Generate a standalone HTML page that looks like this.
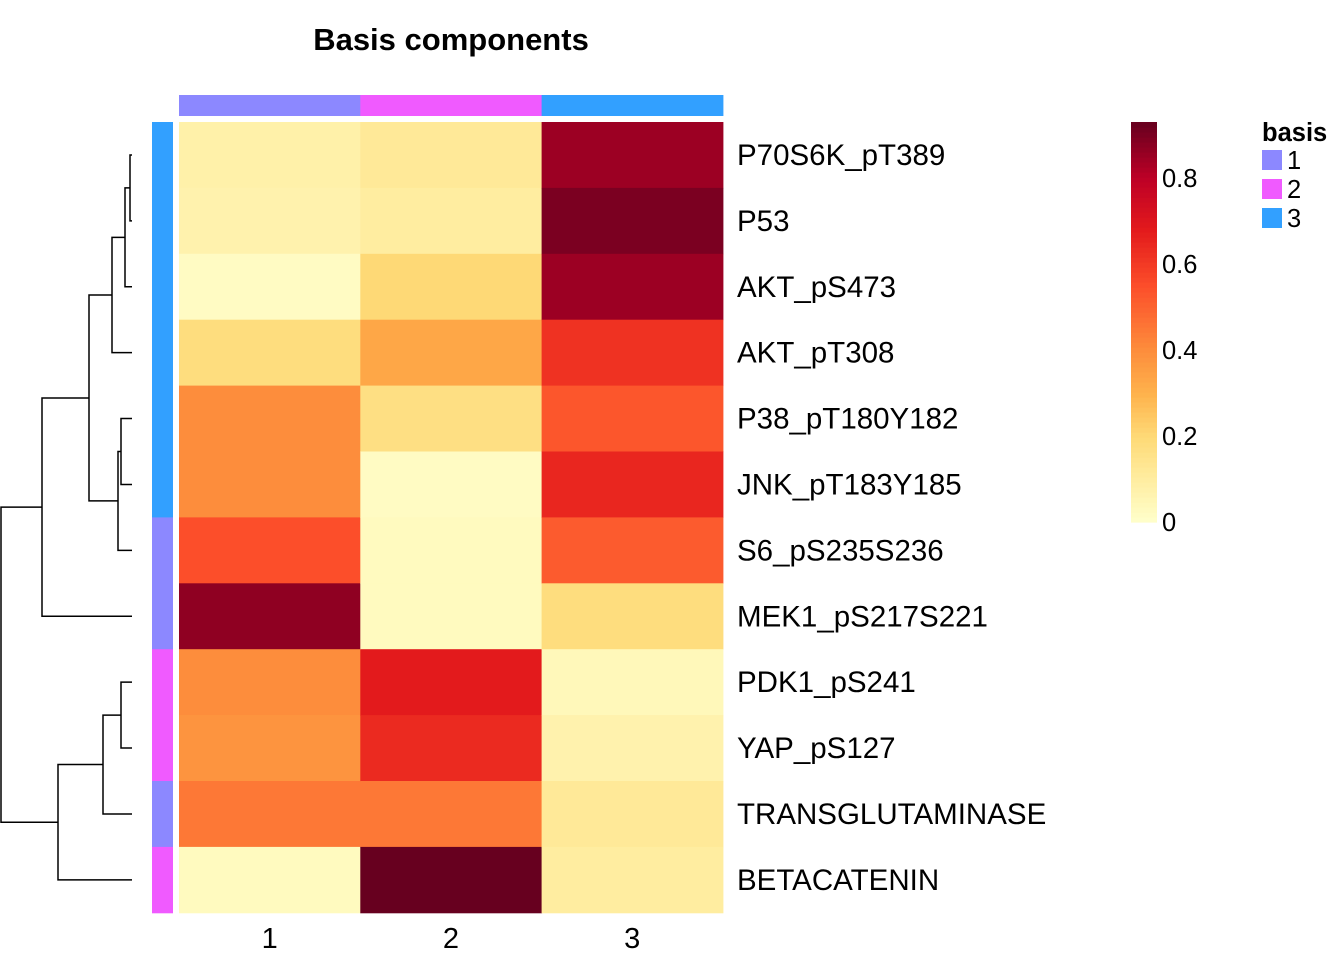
<!DOCTYPE html>
<html><head><meta charset="utf-8"><style>
body{margin:0;background:#fff;width:1344px;height:960px;overflow:hidden}
svg text{font-family:"Liberation Sans",Arial,sans-serif}
</style></head><body>
<svg id="chart" width="1344" height="960" xmlns="http://www.w3.org/2000/svg">
<text x="451" y="50" font-size="31" font-weight="bold" text-anchor="middle">Basis components</text>
<g id="cells"></g>
<g id="colann"></g>
<g id="rowann"></g>
<g id="dendro" stroke="#000" stroke-width="1.5" fill="none"></g>
<g id="rowlabels"></g>
<g id="collabels"></g>
<g id="cbar"></g>
<g id="blegend"></g>
</svg>
<script>
const rows = ["P70S6K_pT389","P53","AKT_pS473","AKT_pT308","P38_pT180Y182","JNK_pT183Y185","S6_pS235S236","MEK1_pS217S221","PDK1_pS241","YAP_pS127","TRANSGLUTAMINASE","BETACATENIN"];
const cols = ["1","2","3"];
const basis1 = [0.08,0.07,0.02,0.18,0.40,0.40,0.55,0.87,0.40,0.38,0.45,0.03];
const basis2 = [0.12,0.10,0.20,0.33,0.17,0.02,0.03,0.03,0.68,0.64,0.45,0.93];
const basis3 = [0.85,0.90,0.85,0.62,0.53,0.65,0.52,0.18,0.04,0.07,0.12,0.10];
const rowBasis = [3,3,3,3,3,3,1,1,2,2,1,2];
const colBasis = [1,2,3];
const legendTicks = [0,0.2,0.4,0.6,0.8];
// dendrogram merges: negative = leaf index, positive = merge index (1-based); heights in x pixel units
const mergeA = [-1,1,2,-5,4,3,6,-9,8,9,7];
const mergeB = [-2,-3,-4,-6,-7,5,-8,-10,-11,-12,10];
const mergeX = [130,125,112,121,118,89,42,121,103,58,1];

const NS="http://www.w3.org/2000/svg";
const basisColors={1:"#8C88FF",2:"#F05AFF",3:"#32A0FF"};
const vmax=0.93;
const stopV=[0,0.1,0.2,0.3,0.4,0.55,0.68,0.8,0.93];
const stops=["#FFFFCC","#FFEDA0","#FED976","#FEB24C","#FD8D3C","#FC4E2A","#E31A1C","#BD0026","#67001F"];
function hex(c){return [1,3,5].map(i=>parseInt(c.substr(i,2),16));}
function color(v){v=Math.max(0,Math.min(vmax,v));let i=0;while(i<stopV.length-2&&v>stopV[i+1])i++;let f=(v-stopV[i])/(stopV[i+1]-stopV[i]);let a=hex(stops[i]),b=hex(stops[i+1]);return "rgb("+a.map((x,k)=>Math.round(x+(b[k]-x)*f)).join(",")+")";}
const x0=179,cw=181.3,y0=122,rh=65.9;
function xs(j){return x0+j*cw;}
function ys(i){return y0+i*rh;}
function mk(tag,attrs,parent){const e=document.createElementNS(NS,tag);for(const k in attrs)e.setAttribute(k,attrs[k]);parent.appendChild(e);return e;}
const series=[basis1,basis2,basis3];
const cells=document.getElementById("cells");
series.forEach((s,j)=>s.forEach((v,i)=>{
 const r=mk("rect",{x:xs(j),y:ys(i),width:cw+0.5,height:rh+0.5,fill:color(v)},cells);
 
 
}));
const ca=document.getElementById("colann");
colBasis.forEach((b,j)=>{const r=mk("rect",{x:xs(j),y:95,width:cw+0.5,height:21,fill:basisColors[b]},ca);
 
 });
const ra=document.getElementById("rowann");
rowBasis.forEach((b,i)=>{const r=mk("rect",{x:152,y:ys(i),width:21,height:rh+0.5,fill:basisColors[b]},ra);
 
 });
const rl=document.getElementById("rowlabels");
rows.forEach((n,i)=>{const t=mk("text",{x:737,y:ys(i)+rh/2+10,"font-size":29.5},rl);t.textContent=n;
 
 });
const cl=document.getElementById("collabels");
cols.forEach((n,j)=>{const t=mk("text",{x:xs(j)+cw/2,y:948,"font-size":29,"text-anchor":"middle"},cl);t.textContent=n;
 
 });
const dg=document.getElementById("dendro");const leafX=132;const nodeY=[],nodeX=[];
function pos(id){return id<0?[leafX,ys(-id-1)+rh/2]:[nodeX[id-1],nodeY[id-1]];}
mergeA.forEach((a,k)=>{const pa=pos(a),pb=pos(mergeB[k]),h=mergeX[k];
 const p=mk("path",{d:`M${pa[0]},${pa[1]}H${h}V${pb[1]}H${pb[0]}`},dg);
 
 
 nodeX.push(h);nodeY.push((pa[1]+pb[1])/2);});
const cb=document.getElementById("cbar");const cbTop=122,cbBot=522;
for(let k=0;k<80;k++){const v0=vmax*k/80;const yb=cbBot-(cbBot-cbTop)*(k+1)/80;
 const r=mk("rect",{x:1131,y:yb,width:26,height:(cbBot-cbTop)/80+0.6,fill:color(v0+vmax/160)},cb);
 
 }
legendTicks.forEach(v=>{const y=cbBot-(cbBot-cbTop)*v/vmax;const t=mk("text",{x:1162,y:y+9,"font-size":25.5},cb);t.textContent=String(v);
 
 });
const bl=document.getElementById("blegend");
const bt=mk("text",{x:1262,y:141,"font-size":25.5,"font-weight":"bold"},bl);bt.textContent="basis";


colBasis.forEach((b,k)=>{const y=150+k*29;
 const r=mk("rect",{x:1262,y:y,width:20,height:20,fill:basisColors[b]},bl);
 
 
 const t=mk("text",{x:1287,y:y+19,"font-size":25.5},bl);t.textContent=String(b);
 
 });
</script>
</body></html>
